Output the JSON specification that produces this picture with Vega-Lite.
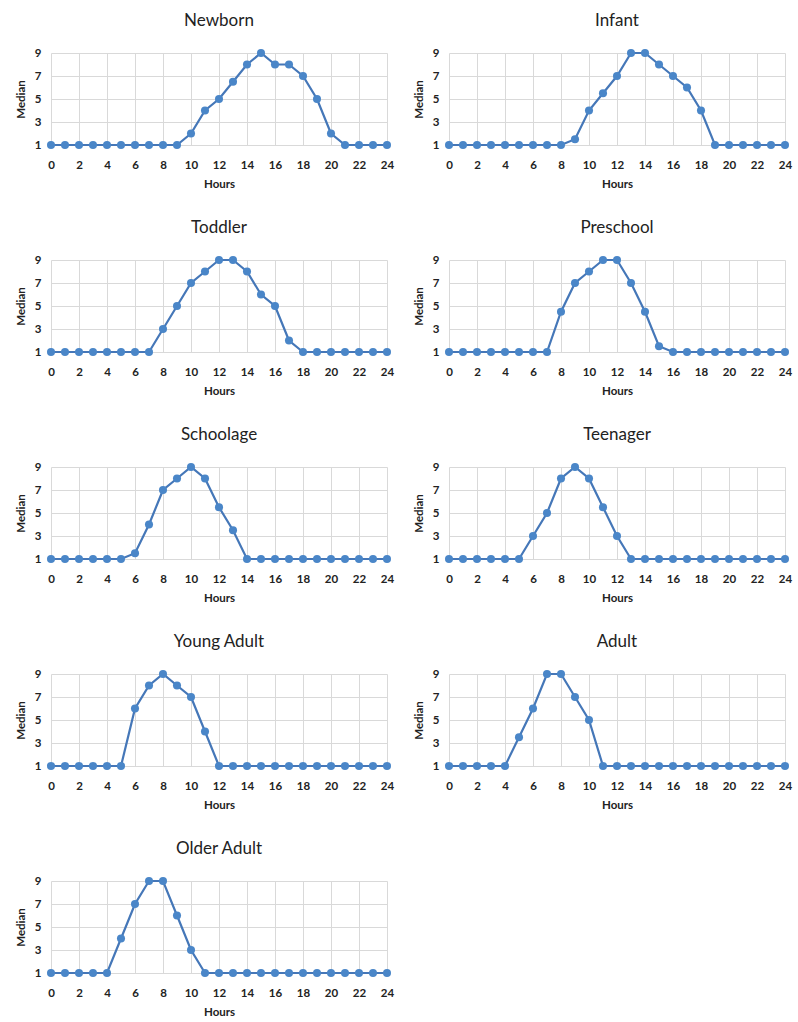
{
  "$schema": "https://vega.github.io/schema/vega-lite/v6.json",
  "background": "white",
  "padding": {"left": 15, "top": 12, "right": 4, "bottom": 0},
  "config": {
    "font": "Lato",
    "view": {"stroke": null},
    "axis": {"gridColor": "#d9d9d9", "gridWidth": 1, "domain": false, "ticks": false, "labelFont": "Lato", "labelFontSize": 11.5, "labelFontWeight": "bold", "labelColor": "#222", "titleFont": "Lato", "titleFontSize": 11.5, "titleFontWeight": "bold", "titleColor": "#222"}
  },
  "data": {"values": [
    {"group":"Newborn","hour":0,"median":1},{"group":"Newborn","hour":1,"median":1},{"group":"Newborn","hour":2,"median":1},{"group":"Newborn","hour":3,"median":1},{"group":"Newborn","hour":4,"median":1},{"group":"Newborn","hour":5,"median":1},{"group":"Newborn","hour":6,"median":1},{"group":"Newborn","hour":7,"median":1},{"group":"Newborn","hour":8,"median":1},{"group":"Newborn","hour":9,"median":1},{"group":"Newborn","hour":10,"median":2},{"group":"Newborn","hour":11,"median":4},{"group":"Newborn","hour":12,"median":5},{"group":"Newborn","hour":13,"median":6.5},{"group":"Newborn","hour":14,"median":8},{"group":"Newborn","hour":15,"median":9},{"group":"Newborn","hour":16,"median":8},{"group":"Newborn","hour":17,"median":8},{"group":"Newborn","hour":18,"median":7},{"group":"Newborn","hour":19,"median":5},{"group":"Newborn","hour":20,"median":2},{"group":"Newborn","hour":21,"median":1},{"group":"Newborn","hour":22,"median":1},{"group":"Newborn","hour":23,"median":1},{"group":"Newborn","hour":24,"median":1},
    {"group":"Infant","hour":0,"median":1},{"group":"Infant","hour":1,"median":1},{"group":"Infant","hour":2,"median":1},{"group":"Infant","hour":3,"median":1},{"group":"Infant","hour":4,"median":1},{"group":"Infant","hour":5,"median":1},{"group":"Infant","hour":6,"median":1},{"group":"Infant","hour":7,"median":1},{"group":"Infant","hour":8,"median":1},{"group":"Infant","hour":9,"median":1.5},{"group":"Infant","hour":10,"median":4},{"group":"Infant","hour":11,"median":5.5},{"group":"Infant","hour":12,"median":7},{"group":"Infant","hour":13,"median":9},{"group":"Infant","hour":14,"median":9},{"group":"Infant","hour":15,"median":8},{"group":"Infant","hour":16,"median":7},{"group":"Infant","hour":17,"median":6},{"group":"Infant","hour":18,"median":4},{"group":"Infant","hour":19,"median":1},{"group":"Infant","hour":20,"median":1},{"group":"Infant","hour":21,"median":1},{"group":"Infant","hour":22,"median":1},{"group":"Infant","hour":23,"median":1},{"group":"Infant","hour":24,"median":1},
    {"group":"Toddler","hour":0,"median":1},{"group":"Toddler","hour":1,"median":1},{"group":"Toddler","hour":2,"median":1},{"group":"Toddler","hour":3,"median":1},{"group":"Toddler","hour":4,"median":1},{"group":"Toddler","hour":5,"median":1},{"group":"Toddler","hour":6,"median":1},{"group":"Toddler","hour":7,"median":1},{"group":"Toddler","hour":8,"median":3},{"group":"Toddler","hour":9,"median":5},{"group":"Toddler","hour":10,"median":7},{"group":"Toddler","hour":11,"median":8},{"group":"Toddler","hour":12,"median":9},{"group":"Toddler","hour":13,"median":9},{"group":"Toddler","hour":14,"median":8},{"group":"Toddler","hour":15,"median":6},{"group":"Toddler","hour":16,"median":5},{"group":"Toddler","hour":17,"median":2},{"group":"Toddler","hour":18,"median":1},{"group":"Toddler","hour":19,"median":1},{"group":"Toddler","hour":20,"median":1},{"group":"Toddler","hour":21,"median":1},{"group":"Toddler","hour":22,"median":1},{"group":"Toddler","hour":23,"median":1},{"group":"Toddler","hour":24,"median":1},
    {"group":"Preschool","hour":0,"median":1},{"group":"Preschool","hour":1,"median":1},{"group":"Preschool","hour":2,"median":1},{"group":"Preschool","hour":3,"median":1},{"group":"Preschool","hour":4,"median":1},{"group":"Preschool","hour":5,"median":1},{"group":"Preschool","hour":6,"median":1},{"group":"Preschool","hour":7,"median":1},{"group":"Preschool","hour":8,"median":4.5},{"group":"Preschool","hour":9,"median":7},{"group":"Preschool","hour":10,"median":8},{"group":"Preschool","hour":11,"median":9},{"group":"Preschool","hour":12,"median":9},{"group":"Preschool","hour":13,"median":7},{"group":"Preschool","hour":14,"median":4.5},{"group":"Preschool","hour":15,"median":1.5},{"group":"Preschool","hour":16,"median":1},{"group":"Preschool","hour":17,"median":1},{"group":"Preschool","hour":18,"median":1},{"group":"Preschool","hour":19,"median":1},{"group":"Preschool","hour":20,"median":1},{"group":"Preschool","hour":21,"median":1},{"group":"Preschool","hour":22,"median":1},{"group":"Preschool","hour":23,"median":1},{"group":"Preschool","hour":24,"median":1},
    {"group":"Schoolage","hour":0,"median":1},{"group":"Schoolage","hour":1,"median":1},{"group":"Schoolage","hour":2,"median":1},{"group":"Schoolage","hour":3,"median":1},{"group":"Schoolage","hour":4,"median":1},{"group":"Schoolage","hour":5,"median":1},{"group":"Schoolage","hour":6,"median":1.5},{"group":"Schoolage","hour":7,"median":4},{"group":"Schoolage","hour":8,"median":7},{"group":"Schoolage","hour":9,"median":8},{"group":"Schoolage","hour":10,"median":9},{"group":"Schoolage","hour":11,"median":8},{"group":"Schoolage","hour":12,"median":5.5},{"group":"Schoolage","hour":13,"median":3.5},{"group":"Schoolage","hour":14,"median":1},{"group":"Schoolage","hour":15,"median":1},{"group":"Schoolage","hour":16,"median":1},{"group":"Schoolage","hour":17,"median":1},{"group":"Schoolage","hour":18,"median":1},{"group":"Schoolage","hour":19,"median":1},{"group":"Schoolage","hour":20,"median":1},{"group":"Schoolage","hour":21,"median":1},{"group":"Schoolage","hour":22,"median":1},{"group":"Schoolage","hour":23,"median":1},{"group":"Schoolage","hour":24,"median":1},
    {"group":"Teenager","hour":0,"median":1},{"group":"Teenager","hour":1,"median":1},{"group":"Teenager","hour":2,"median":1},{"group":"Teenager","hour":3,"median":1},{"group":"Teenager","hour":4,"median":1},{"group":"Teenager","hour":5,"median":1},{"group":"Teenager","hour":6,"median":3},{"group":"Teenager","hour":7,"median":5},{"group":"Teenager","hour":8,"median":8},{"group":"Teenager","hour":9,"median":9},{"group":"Teenager","hour":10,"median":8},{"group":"Teenager","hour":11,"median":5.5},{"group":"Teenager","hour":12,"median":3},{"group":"Teenager","hour":13,"median":1},{"group":"Teenager","hour":14,"median":1},{"group":"Teenager","hour":15,"median":1},{"group":"Teenager","hour":16,"median":1},{"group":"Teenager","hour":17,"median":1},{"group":"Teenager","hour":18,"median":1},{"group":"Teenager","hour":19,"median":1},{"group":"Teenager","hour":20,"median":1},{"group":"Teenager","hour":21,"median":1},{"group":"Teenager","hour":22,"median":1},{"group":"Teenager","hour":23,"median":1},{"group":"Teenager","hour":24,"median":1},
    {"group":"Young Adult","hour":0,"median":1},{"group":"Young Adult","hour":1,"median":1},{"group":"Young Adult","hour":2,"median":1},{"group":"Young Adult","hour":3,"median":1},{"group":"Young Adult","hour":4,"median":1},{"group":"Young Adult","hour":5,"median":1},{"group":"Young Adult","hour":6,"median":6},{"group":"Young Adult","hour":7,"median":8},{"group":"Young Adult","hour":8,"median":9},{"group":"Young Adult","hour":9,"median":8},{"group":"Young Adult","hour":10,"median":7},{"group":"Young Adult","hour":11,"median":4},{"group":"Young Adult","hour":12,"median":1},{"group":"Young Adult","hour":13,"median":1},{"group":"Young Adult","hour":14,"median":1},{"group":"Young Adult","hour":15,"median":1},{"group":"Young Adult","hour":16,"median":1},{"group":"Young Adult","hour":17,"median":1},{"group":"Young Adult","hour":18,"median":1},{"group":"Young Adult","hour":19,"median":1},{"group":"Young Adult","hour":20,"median":1},{"group":"Young Adult","hour":21,"median":1},{"group":"Young Adult","hour":22,"median":1},{"group":"Young Adult","hour":23,"median":1},{"group":"Young Adult","hour":24,"median":1},
    {"group":"Adult","hour":0,"median":1},{"group":"Adult","hour":1,"median":1},{"group":"Adult","hour":2,"median":1},{"group":"Adult","hour":3,"median":1},{"group":"Adult","hour":4,"median":1},{"group":"Adult","hour":5,"median":3.5},{"group":"Adult","hour":6,"median":6},{"group":"Adult","hour":7,"median":9},{"group":"Adult","hour":8,"median":9},{"group":"Adult","hour":9,"median":7},{"group":"Adult","hour":10,"median":5},{"group":"Adult","hour":11,"median":1},{"group":"Adult","hour":12,"median":1},{"group":"Adult","hour":13,"median":1},{"group":"Adult","hour":14,"median":1},{"group":"Adult","hour":15,"median":1},{"group":"Adult","hour":16,"median":1},{"group":"Adult","hour":17,"median":1},{"group":"Adult","hour":18,"median":1},{"group":"Adult","hour":19,"median":1},{"group":"Adult","hour":20,"median":1},{"group":"Adult","hour":21,"median":1},{"group":"Adult","hour":22,"median":1},{"group":"Adult","hour":23,"median":1},{"group":"Adult","hour":24,"median":1},
    {"group":"Older Adult","hour":0,"median":1},{"group":"Older Adult","hour":1,"median":1},{"group":"Older Adult","hour":2,"median":1},{"group":"Older Adult","hour":3,"median":1},{"group":"Older Adult","hour":4,"median":1},{"group":"Older Adult","hour":5,"median":4},{"group":"Older Adult","hour":6,"median":7},{"group":"Older Adult","hour":7,"median":9},{"group":"Older Adult","hour":8,"median":9},{"group":"Older Adult","hour":9,"median":6},{"group":"Older Adult","hour":10,"median":3},{"group":"Older Adult","hour":11,"median":1},{"group":"Older Adult","hour":12,"median":1},{"group":"Older Adult","hour":13,"median":1},{"group":"Older Adult","hour":14,"median":1},{"group":"Older Adult","hour":15,"median":1},{"group":"Older Adult","hour":16,"median":1},{"group":"Older Adult","hour":17,"median":1},{"group":"Older Adult","hour":18,"median":1},{"group":"Older Adult","hour":19,"median":1},{"group":"Older Adult","hour":20,"median":1},{"group":"Older Adult","hour":21,"median":1},{"group":"Older Adult","hour":22,"median":1},{"group":"Older Adult","hour":23,"median":1},{"group":"Older Adult","hour":24,"median":1}
  ]},
  "facet": {
    "field": "group",
    "type": "nominal",
    "sort": ["Newborn", "Infant", "Toddler", "Preschool", "Schoolage", "Teenager", "Young Adult", "Adult", "Older Adult"],
    "header": {"title": null, "labelFont": "Lato", "labelFontSize": 17, "labelColor": "#222", "labelPadding": 17}
  },
  "columns": 2,
  "spacing": {"column": 19, "row": 29},
  "resolve": {"axis": {"x": "independent", "y": "independent"}},
  "spec": {
    "width": 336,
    "height": 92,
    "encoding": {
      "x": {"field": "hour", "type": "quantitative", "title": "Hours", "scale": {"domain": [0, 24], "nice": false}, "axis": {"values": [0,2,4,6,8,10,12,14,16,18,20,22,24], "labelPadding": 14, "titlePadding": 8, "labelFlush": false}},
      "y": {"field": "median", "type": "quantitative", "title": "Median", "scale": {"domain": [1, 9], "nice": false, "zero": false}, "axis": {"values": [1,3,5,7,9], "labelPadding": 10, "titlePadding": 8}}
    },
    "layer": [
      {"mark": {"type": "line", "color": "#4577b8", "strokeWidth": 2.2, "clip": false}},
      {"mark": {"type": "point", "filled": true, "shape": "circle", "size": 65, "opacity": 1, "color": "#4a86c8", "clip": false}}
    ]
  }
}
